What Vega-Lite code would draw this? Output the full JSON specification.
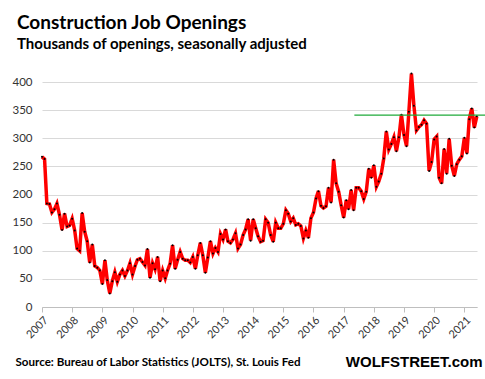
{
  "$schema": "https://vega.github.io/schema/vega-lite/v6.json",
  "width": 435,
  "height": 225,
  "autosize": "none",
  "padding": {"left": 42, "top": 82, "right": 8, "bottom": 72},
  "background": "white",
  "title": {
    "text": "Construction  Job Openings",
    "subtitle": "Thousands of openings, seasonally adjusted",
    "anchor": "start",
    "frame": "group",
    "dx": -25,
    "offset": 15,
    "font": "Lato",
    "fontSize": 19,
    "fontWeight": "bold",
    "color": "black",
    "subtitleFont": "Lato",
    "subtitleFontSize": 15,
    "subtitleFontWeight": "bold",
    "subtitleColor": "black",
    "subtitlePadding": 4
  },
  "config": {"view": {"stroke": null}},
  "encoding": {
    "x": {
      "field": "date",
      "type": "temporal",
      "scale": {"type": "utc", "domain": [{"year": 2007, "month": 1, "date": 1, "utc": true}, {"year": 2021, "month": 6, "date": 3, "utc": true}]},
      "axis": {
        "title": "Source: Bureau of Labor Statistics (JOLTS), St. Louis Fed",
        "titleX": -27,
        "titleY": 58,
        "titleAlign": "left",
        "titleAnchor": "start",
        "titleBaseline": "alphabetic",
        "titleFont": "Lato",
        "titleFontSize": 11.6,
        "titleFontWeight": "bold",
        "titleColor": "black",
        "format": "%Y",
        "tickCount": {"interval": "year", "step": 1},
        "labelAngle": -45,
        "labelAlign": "right",
        "labelBaseline": "top",
        "labelFont": "Lato",
        "labelFontSize": 11,
        "labelColor": "#333333",
        "labelFlush": false,
        "labelOverlap": false,
        "labelPadding": 2,
        "grid": false,
        "domainColor": "#bfbfbf",
        "tickColor": "#bfbfbf",
        "tickSize": 5
      }
    },
    "y": {
      "field": "value",
      "type": "quantitative",
      "scale": {"domain": [0, 400], "nice": false},
      "axis": {
        "title": "WOLFSTREET.com",
        "titleAngle": 0,
        "titleX": 440,
        "titleY": 284,
        "titleAlign": "right",
        "titleBaseline": "alphabetic",
        "titleFont": "Liberation Sans",
        "titleFontSize": 15,
        "titleFontWeight": "bold",
        "titleColor": "black",
        "values": [0, 50, 100, 150, 200, 250, 300, 350, 400],
        "grid": true,
        "gridColor": "#d9d9d9",
        "domain": false,
        "ticks": false,
        "labelPadding": 10,
        "labelFont": "Lato",
        "labelFontSize": 11.5,
        "labelColor": "#333333"
      }
    }
  },
  "layer": [
    {
      "data": {"values": [
        {"date": "2007-01-01", "value": 267}, {"date": "2007-02-01", "value": 263}, {"date": "2007-03-01", "value": 184}, {"date": "2007-04-01", "value": 183}, {"date": "2007-05-01", "value": 168}, {"date": "2007-06-01", "value": 174}, {"date": "2007-07-01", "value": 184}, {"date": "2007-08-01", "value": 164}, {"date": "2007-09-01", "value": 137}, {"date": "2007-10-01", "value": 166}, {"date": "2007-11-01", "value": 143}, {"date": "2007-12-01", "value": 145},
        {"date": "2008-01-01", "value": 157}, {"date": "2008-02-01", "value": 136}, {"date": "2008-03-01", "value": 104}, {"date": "2008-04-01", "value": 100}, {"date": "2008-05-01", "value": 167}, {"date": "2008-06-01", "value": 134}, {"date": "2008-07-01", "value": 117}, {"date": "2008-08-01", "value": 79}, {"date": "2008-09-01", "value": 111}, {"date": "2008-10-01", "value": 73}, {"date": "2008-11-01", "value": 70}, {"date": "2008-12-01", "value": 65},
        {"date": "2009-01-01", "value": 41}, {"date": "2009-02-01", "value": 83}, {"date": "2009-03-01", "value": 48}, {"date": "2009-04-01", "value": 24}, {"date": "2009-05-01", "value": 46}, {"date": "2009-06-01", "value": 62}, {"date": "2009-07-01", "value": 45}, {"date": "2009-08-01", "value": 58}, {"date": "2009-09-01", "value": 65}, {"date": "2009-10-01", "value": 55}, {"date": "2009-11-01", "value": 65}, {"date": "2009-12-01", "value": 78},
        {"date": "2010-01-01", "value": 58}, {"date": "2010-02-01", "value": 73}, {"date": "2010-03-01", "value": 84}, {"date": "2010-04-01", "value": 86}, {"date": "2010-05-01", "value": 80}, {"date": "2010-06-01", "value": 74}, {"date": "2010-07-01", "value": 103}, {"date": "2010-08-01", "value": 52}, {"date": "2010-09-01", "value": 78}, {"date": "2010-10-01", "value": 67}, {"date": "2010-11-01", "value": 89}, {"date": "2010-12-01", "value": 46},
        {"date": "2011-01-01", "value": 65}, {"date": "2011-02-01", "value": 51}, {"date": "2011-03-01", "value": 65}, {"date": "2011-04-01", "value": 77}, {"date": "2011-05-01", "value": 110}, {"date": "2011-06-01", "value": 68}, {"date": "2011-07-01", "value": 84}, {"date": "2011-08-01", "value": 98}, {"date": "2011-09-01", "value": 86}, {"date": "2011-10-01", "value": 83}, {"date": "2011-11-01", "value": 83}, {"date": "2011-12-01", "value": 79},
        {"date": "2012-01-01", "value": 89}, {"date": "2012-02-01", "value": 68}, {"date": "2012-03-01", "value": 92}, {"date": "2012-04-01", "value": 114}, {"date": "2012-05-01", "value": 92}, {"date": "2012-06-01", "value": 61}, {"date": "2012-07-01", "value": 88}, {"date": "2012-08-01", "value": 117}, {"date": "2012-09-01", "value": 95}, {"date": "2012-10-01", "value": 105}, {"date": "2012-11-01", "value": 98}, {"date": "2012-12-01", "value": 130},
        {"date": "2013-01-01", "value": 120}, {"date": "2013-02-01", "value": 138}, {"date": "2013-03-01", "value": 117}, {"date": "2013-04-01", "value": 114}, {"date": "2013-05-01", "value": 120}, {"date": "2013-06-01", "value": 131}, {"date": "2013-07-01", "value": 104}, {"date": "2013-08-01", "value": 111}, {"date": "2013-09-01", "value": 128}, {"date": "2013-10-01", "value": 138}, {"date": "2013-11-01", "value": 156}, {"date": "2013-12-01", "value": 118},
        {"date": "2014-01-01", "value": 156}, {"date": "2014-02-01", "value": 140}, {"date": "2014-03-01", "value": 126}, {"date": "2014-04-01", "value": 116}, {"date": "2014-05-01", "value": 118}, {"date": "2014-06-01", "value": 156}, {"date": "2014-07-01", "value": 150}, {"date": "2014-08-01", "value": 128}, {"date": "2014-09-01", "value": 116}, {"date": "2014-10-01", "value": 150}, {"date": "2014-11-01", "value": 140}, {"date": "2014-12-01", "value": 140},
        {"date": "2015-01-01", "value": 148}, {"date": "2015-02-01", "value": 172}, {"date": "2015-03-01", "value": 166}, {"date": "2015-04-01", "value": 152}, {"date": "2015-05-01", "value": 158}, {"date": "2015-06-01", "value": 146}, {"date": "2015-07-01", "value": 148}, {"date": "2015-08-01", "value": 144}, {"date": "2015-09-01", "value": 122}, {"date": "2015-10-01", "value": 136}, {"date": "2015-11-01", "value": 123}, {"date": "2015-12-01", "value": 158},
        {"date": "2016-01-01", "value": 168}, {"date": "2016-02-01", "value": 193}, {"date": "2016-03-01", "value": 206}, {"date": "2016-04-01", "value": 180}, {"date": "2016-05-01", "value": 176}, {"date": "2016-06-01", "value": 179}, {"date": "2016-07-01", "value": 212}, {"date": "2016-08-01", "value": 186}, {"date": "2016-09-01", "value": 262}, {"date": "2016-10-01", "value": 220}, {"date": "2016-11-01", "value": 205}, {"date": "2016-12-01", "value": 181},
        {"date": "2017-01-01", "value": 159}, {"date": "2017-02-01", "value": 190}, {"date": "2017-03-01", "value": 174}, {"date": "2017-04-01", "value": 208}, {"date": "2017-05-01", "value": 172}, {"date": "2017-06-01", "value": 212}, {"date": "2017-07-01", "value": 212}, {"date": "2017-08-01", "value": 206}, {"date": "2017-09-01", "value": 192}, {"date": "2017-10-01", "value": 205}, {"date": "2017-11-01", "value": 246}, {"date": "2017-12-01", "value": 230},
        {"date": "2018-01-01", "value": 252}, {"date": "2018-02-01", "value": 214}, {"date": "2018-03-01", "value": 223}, {"date": "2018-04-01", "value": 237}, {"date": "2018-05-01", "value": 264}, {"date": "2018-06-01", "value": 312}, {"date": "2018-07-01", "value": 280}, {"date": "2018-08-01", "value": 290}, {"date": "2018-09-01", "value": 302}, {"date": "2018-10-01", "value": 277}, {"date": "2018-11-01", "value": 302}, {"date": "2018-12-01", "value": 342},
        {"date": "2019-01-01", "value": 306}, {"date": "2019-02-01", "value": 286}, {"date": "2019-03-01", "value": 347}, {"date": "2019-04-01", "value": 415}, {"date": "2019-05-01", "value": 358}, {"date": "2019-06-01", "value": 314}, {"date": "2019-07-01", "value": 320}, {"date": "2019-08-01", "value": 324}, {"date": "2019-09-01", "value": 332}, {"date": "2019-10-01", "value": 326}, {"date": "2019-11-01", "value": 242}, {"date": "2019-12-01", "value": 258},
        {"date": "2020-01-01", "value": 298}, {"date": "2020-02-01", "value": 303}, {"date": "2020-03-01", "value": 230}, {"date": "2020-04-01", "value": 220}, {"date": "2020-05-01", "value": 281}, {"date": "2020-06-01", "value": 237}, {"date": "2020-07-01", "value": 299}, {"date": "2020-08-01", "value": 251}, {"date": "2020-09-01", "value": 233}, {"date": "2020-10-01", "value": 254}, {"date": "2020-11-01", "value": 262}, {"date": "2020-12-01", "value": 268},
        {"date": "2021-01-01", "value": 301}, {"date": "2021-02-01", "value": 273}, {"date": "2021-03-01", "value": 334}, {"date": "2021-04-01", "value": 353}, {"date": "2021-05-01", "value": 319}, {"date": "2021-06-01", "value": 339}
      ]},
      "mark": {"type": "line", "color": "#ff0000", "strokeWidth": 3.5, "point": {"filled": true, "color": "black", "size": 4, "opacity": 1}}
    },
    {
      "data": {"values": [{"date": "2017-05-10", "end": "2021-09-15", "value": 341}]},
      "mark": {"type": "rule", "color": "#1faa3a", "strokeWidth": 1.2},
      "encoding": {"x2": {"field": "end"}}
    }
  ]
}
